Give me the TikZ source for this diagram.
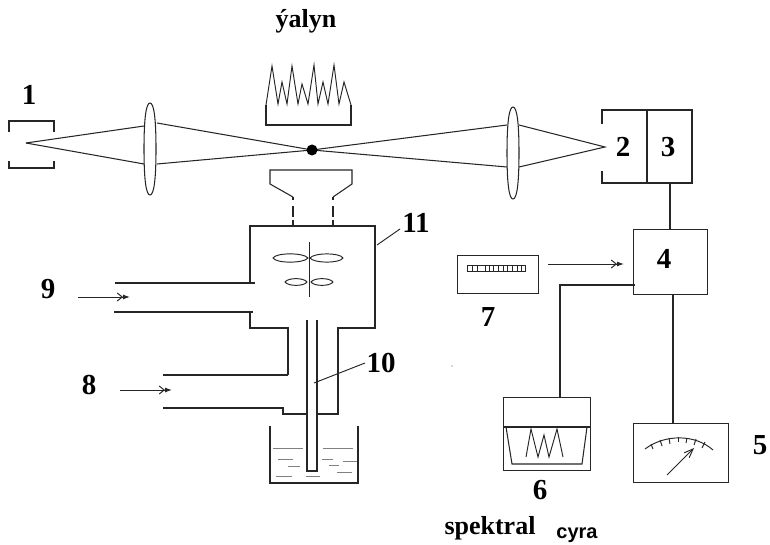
\documentclass[tikz,border=0pt]{standalone}
\usepackage{fontspec}
\setmainfont{Liberation Serif}
\newfontfamily\arialf{Liberation Sans}
\usetikzlibrary{arrows.meta}
\tikzset{
  x=1pt,y=-1pt,
  ln/.style={line width=1.05pt,black!85},
  thin ln/.style={line width=0.95pt,black!85},
  gray ln/.style={line width=1pt,black!50},
  lab/.style={inner sep=0pt,font=\bfseries\fontsize{29}{29}\selectfont},
  word/.style={inner sep=0pt,font=\bfseries\fontsize{26}{26}\selectfont},
  flow/.style={line width=1pt,black!85,-{Straight Barb[length=5pt,width=8pt]Latex[length=7pt,width=5pt]}},
  boxn/.style={draw,line width=1.05pt,black!85,inner sep=0pt,anchor=north west},
}
\newcommand{\lensshape}[2]{% centre x, centre y
  \draw[ln] (#1,#2-46) .. controls (#1+4,#2-46) and (#1+6,#2-30) .. (#1+6,#2)
    .. controls (#1+6,#2+30) and (#1+4,#2+46) .. (#1,#2+46)
    .. controls (#1-4,#2+46) and (#1-6,#2+30) .. (#1-6,#2)
    .. controls (#1-6,#2-30) and (#1-4,#2-46) .. (#1,#2-46) -- cycle;}
\begin{document}
\begin{tikzpicture}
\useasboundingbox (0,0) rectangle (770,545);
% labels
\node[word] (wflame) at (306,21) {ýalyn};
\node[lab] (n1) at (29,95) {1};
\node[lab] (n2) at (623,147) {2};
\node[lab] (n3) at (668,147) {3};
\node[lab] (n4) at (664,259) {4};
\node[lab] (n5) at (760,445) {5};
\node[lab] (n6) at (540,490) {6};
\node[lab] (n7) at (488,317) {7};
\node[lab] (n8) at (89,385) {8};
\node[lab] (n9) at (48,289) {9};
\node[lab] (n10) at (381,363) {10};
\node[lab] (n11) at (416,223) {11};
\node[word] (wspec) at (490,528) {spektral};
\node[inner sep=0pt,font=\arialf\bfseries\fontsize{20}{20}\selectfont] (wcyra) at (577,535) {cyra};
% source 1
\draw[ln] (9,132) -- (9,121) -- (54,121) -- (54,132);
\draw[ln] (9,161) -- (9,168) -- (54,168) -- (54,161);
% lenses
\coordinate (focus) at (312,150);
\coordinate (src) at (26,143);
\coordinate (det) at (605,147);
\lensshape{150}{149}
\lensshape{513}{153}
% rays
\draw[ln] (src) -- (144,126);
\draw[ln] (src) -- (144,164);
\draw[ln] (157,123) -- (focus) -- (507,125);
\draw[ln] (157,164) -- (focus) -- (507,167);
\draw[ln] (519,125) -- (det) -- (519,167);
\fill[black] (focus) circle (5.5);
% flame
\draw[ln] (266,105) -- (266,125) -- (351,125) -- (351,105);
\draw[thin ln] (266,105) -- (272,66) -- (278,104) -- (282,82) -- (287,104) -- (292,66) -- (298,104) -- (302,84) -- (308,104) -- (314,65) -- (318,104) -- (323,82) -- (328,104) -- (334,65) -- (339,104) -- (344,82) -- (351,105);
% burner head
\draw[ln] (293,197) -- (270,184) -- (270,170) -- (352,170) -- (352,184) -- (333,197);
\draw[ln,dash pattern=on 3pt off 6pt on 11pt off 3pt on 6pt] (293,197) -- (293,226);
\draw[ln,dash pattern=on 3pt off 6pt on 11pt off 3pt on 6pt] (333,197) -- (333,226);
% chamber
\draw[ln] (250,283) -- (250,226) -- (375,226) -- (375,328) -- (338,328) -- (338,414) -- (317,414);
\draw[ln] (250,312) -- (250,328) -- (288,328) -- (288,375);
\draw[ln] (115,283) -- (255,283);
\draw[ln] (114,312) -- (253,312);
\draw[ln] (163,375) -- (288,375);
\draw[ln] (163,408) -- (283,408) -- (283,414) -- (307,414);
% 9 and 8 arrows
\coordinate (a9s) at (78,297);
\coordinate (a9e) at (130,297);
\coordinate (a8s) at (120,390);
\coordinate (a8e) at (172,390);
\draw[flow] (a9s) -- (a9e);
\draw[flow] (a8s) -- (a8e);
% stirrer
\draw[thin ln] (309,242) -- (309,297);
\draw[thin ln] (273,258) .. controls (276,252.5) and (304,252.5) .. (308,258) .. controls (304,263.5) and (276,263.5) .. (273,258) -- cycle;
\draw[thin ln] (343,258) .. controls (340,252.5) and (314,252.5) .. (310,258) .. controls (314,263.5) and (340,263.5) .. (343,258) -- cycle;
\draw[thin ln] (285,282) .. controls (288,277.5) and (304,277.5) .. (307,282) .. controls (304,286.5) and (288,286.5) .. (285,282) -- cycle;
\draw[thin ln] (333,282) .. controls (330,277.5) and (314,277.5) .. (311,282) .. controls (314,286.5) and (330,286.5) .. (333,282) -- cycle;
% capillary
\draw[ln] (307,320) -- (307,471) -- (317,471) -- (317,320);
% leader lines
\coordinate (l10) at (314,383);
\coordinate (l10e) at (365,363);
\coordinate (l11) at (377,245);
\coordinate (l11e) at (400,229);
\draw[thin ln] (l10e) -- (l10);
\draw[thin ln] (l11) -- (l11e);
% beaker
\draw[ln] (270,426) -- (270,483) -- (358,483) -- (358,426);
\foreach \a/\b/\c in {273/303/448, 323/353/448, 278/293/459, 322/333/459, 343/357/461, 288/300/466, 329/339/465, 276/292/476, 306/320/476, 337/352/472}
  \draw[gray ln] (\a,\c) -- (\b,\c);
% detector 2/3
\draw[ln] (602,124) -- (602,110) -- (692,110) -- (692,183) -- (602,183) -- (602,171);
\draw[ln] (647,110) -- (647,183);
\draw[ln] (670,183) -- (670,229);
% box 4
\node[boxn,minimum width=74pt,minimum height=65pt] (b4) at (633,229) {};
% box 7
\node[boxn,minimum width=81pt,minimum height=38pt] (b7) at (457,255) {};
\draw[thin ln] (467,265) rectangle (525,271);
\foreach \x in {472,477,485,489,493,498,503,507,512,517,521} \draw[thin ln] (\x,265) -- (\x,271);
\coordinate (a7s) at (548,264);
\coordinate (a7e) at (624,264);
\draw[flow] (a7s) -- (a7e);
% wiring
\draw[ln] (635,285) -- (560,285) -- (560,397);
\draw[ln] (673,294) -- (673,423);
% box 6
\node[boxn,minimum width=87pt,minimum height=73pt] (b6) at (503,397) {};
\draw[ln] (503,427) -- (590,427);
\draw[ln] (506,427) -- (512,464) -- (582,464) -- (587,427);
\draw[thin ln] (526,457) -- (531,429) -- (538,457) -- (544,435) -- (549,457) -- (557,429) -- (563,457);
% meter 5
\node[boxn,minimum width=95pt,minimum height=59pt] (b5) at (633,423) {};
\draw[thin ln] (645,449) .. controls (665,434) and (695,434) .. (713,450);
\foreach \x/\y/\u/\v in {651/444/653/449, 660/440/662/446, 669/438/670/444, 678/437/678/442, 687/438/686/443, 696/439/694/445, 705/442/702/448}
  \draw[thin ln] (\x,\y) -- (\u,\v);
\coordinate (ndl) at (667,475);
\coordinate (ndh) at (694,448);
\draw[thin ln,-{Straight Barb[length=9pt,width=7pt]}] (ndl) -- (ndh);
\fill[black!70] (452,366) circle (0.6);
\end{tikzpicture}
\end{document}
